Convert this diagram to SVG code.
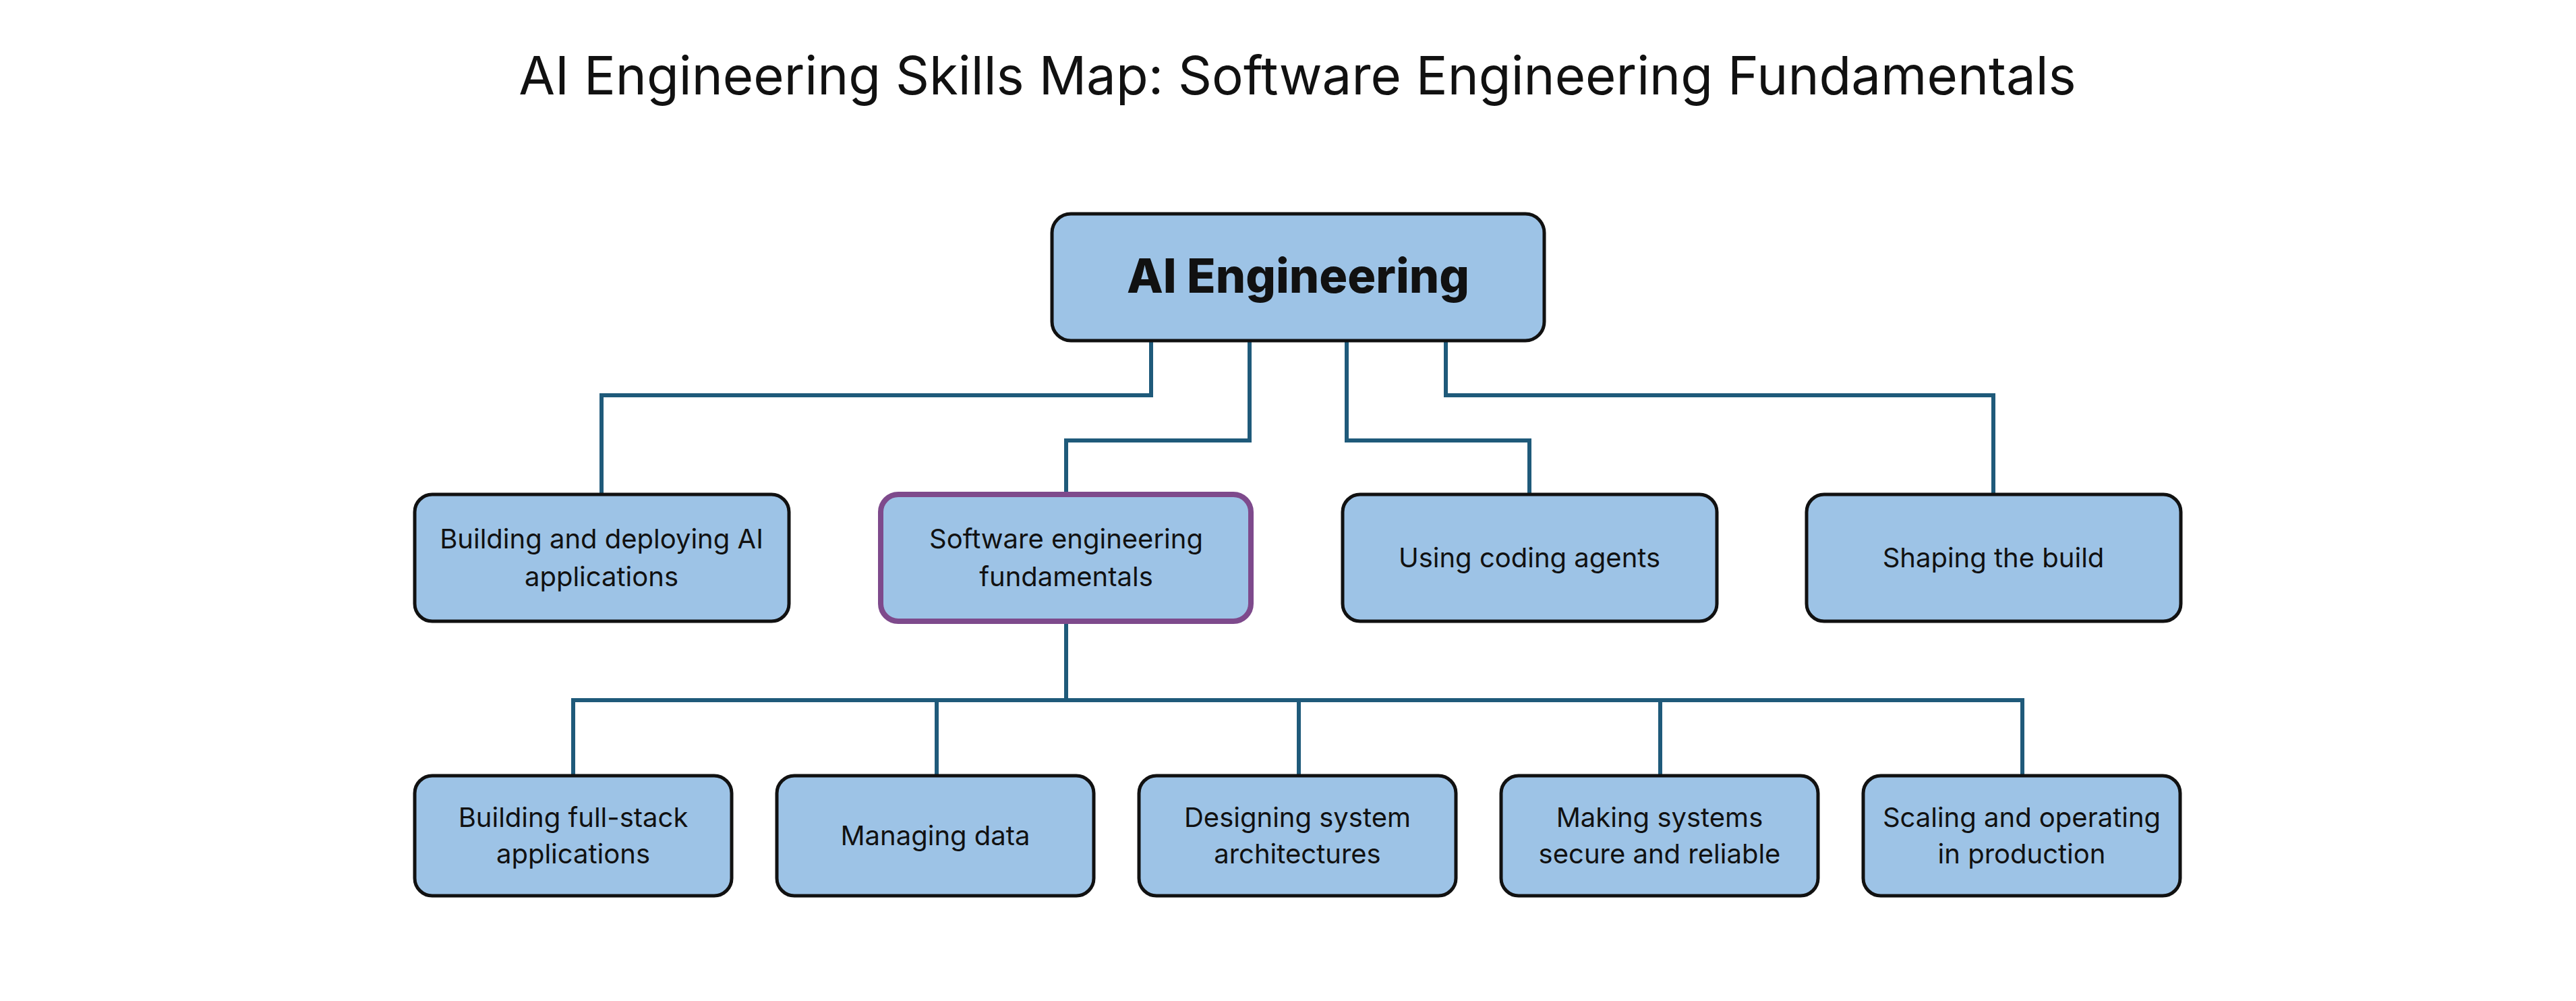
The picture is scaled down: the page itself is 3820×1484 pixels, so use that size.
<svg xmlns="http://www.w3.org/2000/svg" width="3820" height="1484" viewBox="0 0 3820 1484">
<style>
.n{fill:#9dc3e6;stroke:#111;stroke-width:5}
.p{fill:#9dc3e6;stroke:#7e4a8c;stroke-width:8}
.t{font-family:Inter,"Open Sans",sans-serif;font-size:40px;fill:#111;text-anchor:middle}
.c{fill:none;stroke:#1f5a7a;stroke-width:6}
</style>
<rect width="3820" height="1484" fill="#fff"/>
<text x="1924" y="140" style="font-family:Inter,'Open Sans',sans-serif;font-size:78px;fill:#111;text-anchor:middle">AI Engineering Skills Map: Software Engineering Fundamentals</text>
<g id="connectors" class="c">
<path d="M1707 505V586H892V731"/>
<path d="M1853 505V653H1581V731"/>
<path d="M1997 505V653H2268V731"/>
<path d="M2144 505V586H2956V731"/>
<path d="M1581 922V1038"/>
<path d="M850 1150V1038H2999V1150"/>
<path d="M1389 1038V1150M1926 1038V1150M2462 1038V1150"/>
</g>
<g id="root"><rect class="n" x="1560" y="317" width="730" height="188" rx="28"/><text x="1925" y="434" style="font-family:Inter,'Open Sans',sans-serif;font-weight:800;font-size:70px;fill:#111;text-anchor:middle">AI Engineering</text></g>
<g id="n1"><rect class="n" x="615" y="733" width="555" height="188" rx="26"/><text class="t" x="892" y="813">Building and deploying AI</text><text class="t" x="892" y="869">applications</text></g>
<g id="n2"><rect class="p" x="1306" y="733" width="549" height="188" rx="26"/><text class="t" x="1581" y="813">Software engineering</text><text class="t" x="1581" y="869">fundamentals</text></g>
<g id="n3"><rect class="n" x="1991" y="733" width="555" height="188" rx="26"/><text class="t" x="2268" y="841">Using coding agents</text></g>
<g id="n4"><rect class="n" x="2679" y="733" width="555" height="188" rx="26"/><text class="t" x="2956" y="841">Shaping the build</text></g>
<g id="b1"><rect class="n" x="615" y="1150" width="470" height="178" rx="26"/><text class="t" x="850" y="1226">Building full-stack</text><text class="t" x="850" y="1280">applications</text></g>
<g id="b2"><rect class="n" x="1152" y="1150" width="470" height="178" rx="26"/><text class="t" x="1387" y="1253">Managing data</text></g>
<g id="b3"><rect class="n" x="1689" y="1150" width="470" height="178" rx="26"/><text class="t" x="1924" y="1226">Designing system</text><text class="t" x="1924" y="1280">architectures</text></g>
<g id="b4"><rect class="n" x="2226" y="1150" width="470" height="178" rx="26"/><text class="t" x="2461" y="1226">Making systems</text><text class="t" x="2461" y="1280">secure and reliable</text></g>
<g id="b5"><rect class="n" x="2763" y="1150" width="470" height="178" rx="26"/><text class="t" x="2998" y="1226">Scaling and operating</text><text class="t" x="2998" y="1280">in production</text></g>
</svg>
